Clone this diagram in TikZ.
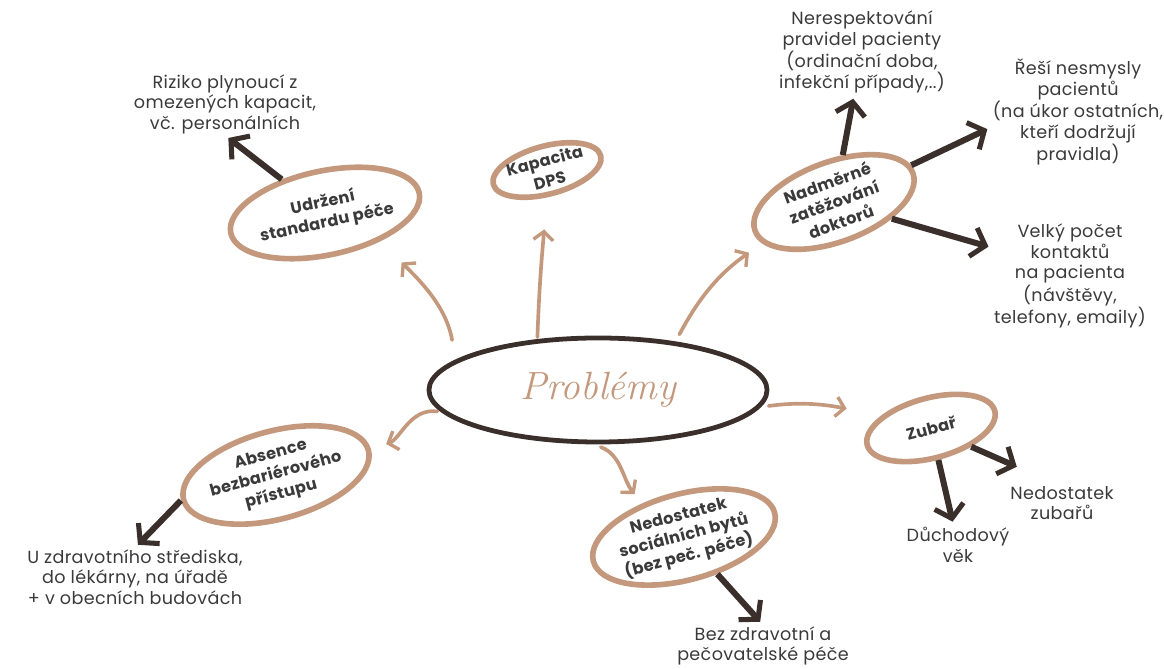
\documentclass[tikz,border=0pt]{standalone}
\usepackage{fontspec}
\setsansfont{Poppins}[LetterSpace=2]
\usetikzlibrary{shapes.geometric,arrows.meta}
\definecolor{tanc}{RGB}{196,152,124}
\definecolor{darkc}{RGB}{59,47,43}
\definecolor{textc}{RGB}{58,58,58}
\tikzset{
  topic/.style={ellipse, draw=tanc, line width=4pt, inner sep=0pt, text=textc,
    font=\sffamily\bfseries\fontsize{11.5}{14.5}\selectfont, align=center},
  note/.style={font=\sffamily\fontsize{12.5}{14.6}\selectfont, text=textc, align=center, inner sep=1pt},
  tanarrow/.style={draw=tanc, line width=2.6pt, line cap=round,
    -{Straight Barb[length=6pt,width=14pt,line width=2.4pt]}},
  darkarrow/.style={draw=darkc, line width=4.3pt, shorten >=3pt,
    -{Straight Barb[length=9pt,width=21pt,line width=3.6pt]}}
}
\begin{document}
\begin{tikzpicture}[x=0.025cm,y=0.025cm]
  \useasboundingbox (0,0) rectangle (1164,669);
  % centre
  \node[ellipse, draw=darkc, line width=3.4pt, minimum width=8.45cm, minimum height=2.6cm,
        text=tanc, font=\rmfamily\itshape\fontsize{28}{30}\selectfont] (prob) at (598,279) {Problémy};
  % topics
  \node[topic, rotate=12, minimum width=4.5cm, minimum height=2.1cm] (udr) at (325,456) {Udržení\\standardu péče};
  \node[topic, rotate=15, minimum width=2.4cm, minimum height=1.2cm] (kap) at (547,499) {Kapacita\\DPS};
  \node[topic, rotate=20, minimum width=4.2cm, minimum height=2.0cm] (nad) at (834,467) {Nadměrné\\zatěžování\\doktorů};
  \node[topic, rotate=15, minimum width=3.3cm, minimum height=1.5cm] (zub) at (931,241) {Zubař};
  \node[topic, rotate=15, minimum width=4.6cm, minimum height=2.2cm] (abs) at (276,194) {Absence\\bezbariérového\\přístupu};
  \node[topic, rotate=15, minimum width=4.3cm, minimum height=2.15cm] (ned) at (684,132) {Nedostatek\\sociálních bytů\\(bez peč. péče)};
  % notes
  \node[note] (riz) at (225,565) {Riziko plynoucí z\\omezených kapacit,\\vč. personálních};
  \node[note] (ner) at (862,617) {Nerespektování\\pravidel pacienty\\(ordinační doba,\\infekční případy,..)};
  \node[note] (res) at (1078,557) {Řeší nesmysly\\pacientů\\(na úkor ostatních,\\kteří dodržují\\pravidla)};
  \node[note] (vel) at (1070,393) {Velký počet\\kontaktů\\na pacienta\\(návštěvy,\\telefony, emaily)};
  \node[note] (nzu) at (1062,166) {Nedostatek\\zubařů};
  \node[note] (duc) at (958,124) {Důchodový\\věk};
  \node[note] (uzd) at (135,92) {U zdravotního střediska,\\do lékárny, na úřadě\\+ v obecních budovách};
  \node[note] (bez) at (763,23) {Bez zdravotní a\\pečovatelské péče};
  % tan arrows
  \draw[tanarrow, shorten <=0.5cm, shorten >=0.75cm] (prob.168) to[out=100,in=-45] (udr.-39);
  \draw[tanarrow, shorten <=0.05cm, shorten >=0.8cm] (prob.140) to[out=88,in=-95] (kap.-105);
  \draw[tanarrow, shorten <=0.2cm, shorten >=0.4cm] (prob.32) to[out=62,in=-145] (nad.190);
  \draw[tanarrow, shorten <=0.2cm, shorten >=0.9cm] (prob.-6) to[out=8,in=170] (zub.150);
  \draw[tanarrow, shorten <=0.1cm, shorten >=0.4cm] (prob.188) to[out=172,in=20] (abs.east);
  \draw[tanarrow, shorten <=0.2cm, shorten >=0.3cm] (prob.-95) to[out=-20,in=130] (ned.126);
  % dark arrows
  \foreach \a/\b in {udr/riz.south, nad/ner, nad/res.190, nad/vel.160, zub/duc,
                     abs.west/uzd.north, ned/bez.north}
    \draw[darkarrow] (\a) -- (\b);
  \draw[darkarrow] (zub.-40) -- ([xshift=0.3cm,yshift=0.4cm]nzu.north west);
\end{tikzpicture}
\end{document}
